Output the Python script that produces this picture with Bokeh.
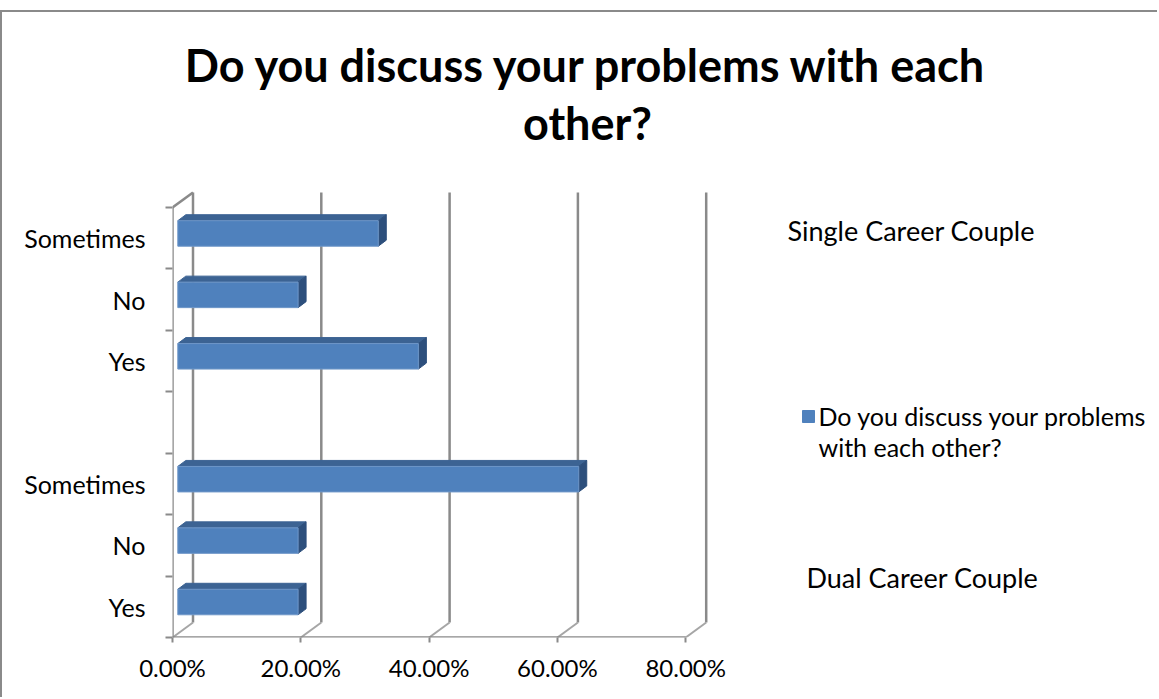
from bokeh.plotting import figure
from bokeh.models import FixedTicker, NumeralTickFormatter, Label, Range1d
from bokeh.embed import file_html
from bokeh.resources import INLINE

# ---------------- data ----------------
categories = ["Yes", "No", "Sometimes"]
groups = ["Dual Career Couple", "Single Career Couple"]
dual_career = [0.1875, 0.1875, 0.625]
single_career = [0.375, 0.1875, 0.3125]
x_ticks = [0.0, 0.2, 0.4, 0.6, 0.8]
series_name = "Do you discuss your problems with each other?"
title_lines = ["Do you discuss your problems with each", "other?"]

# ---------------- layout helpers (page pixels -> data) ----------------
X0_PX, PX_PER_X = 172.0, 641.5      # x = 0 at page px 172
Y0_PX, PX_PER_Y = 637.0, 61.43      # y = -0.5 at page px 637
OX, OY = 2, 12                       # canvas offset on page (css border)
W, H = 1159 - OX, 699 - OY


def dx(px):
    return (px - X0_PX) / PX_PER_X


def dy(py):
    return -0.5 + (Y0_PX - py) / PX_PER_Y


FONT = "Lato"
GRID = "#8a8a8a"
FRONT = "#4f81bd"
TOP = "#3c6393"
SIDE = "#2d4f7c"

p = figure(width=W, height=H, output_backend="svg", toolbar_location=None,
           x_range=Range1d(dx(X0_PX), dx(1159)), y_range=Range1d(dy(Y0_PX), dy(OY)),
           min_border_left=int(X0_PX) - OX, min_border_right=0, min_border_top=0,
           min_border_bottom=699 - int(Y0_PX),
           styles={"margin-top": "10px", "border-top": "2px solid #8a8a8a",
                   "border-left": "2px solid #8a8a8a"})
p.outline_line_color = None
p.xgrid.visible = False
p.ygrid.visible = False
p.background_fill_color = "white"
p.border_fill_color = "white"

# ---------------- axes ----------------
ypos = []
labels = {}
allvals = []
for gi, vals in enumerate([dual_career, single_career]):
    for ci, c in enumerate(categories):
        pos = gi * (len(categories) + 1) + ci
        ypos.append(pos)
        labels[pos] = c
        allvals.append(vals[ci])
n_slots = len(categories) * 2 + 1
bounds = [i - 0.5 for i in range(n_slots + 1)]

xa = p.xaxis[0]
xa.ticker = FixedTicker(ticks=x_ticks, minor_ticks=[])
xa.formatter = NumeralTickFormatter(format="0.00%")
xa.axis_line_color = None
xa.major_tick_in = 0
xa.major_tick_out = 5
xa.major_tick_line_color = GRID
xa.major_tick_line_width = 2
xa.major_label_text_font = FONT
xa.major_label_text_font_size = "24px"
xa.major_label_text_color = "black"
xa.major_label_standoff = 10

ya = p.yaxis[0]
ya.ticker = FixedTicker(ticks=ypos, minor_ticks=bounds)
ya.major_label_overrides = labels
ya.axis_line_color = None
ya.major_tick_line_color = None
ya.major_tick_in = 0
ya.major_tick_out = 0
ya.minor_tick_in = 0
ya.minor_tick_out = 7
ya.minor_tick_line_color = GRID
ya.minor_tick_line_width = 2
ya.major_label_text_font = FONT
ya.major_label_text_font_size = "25px"
ya.major_label_text_color = "black"
ya.major_label_standoff = 20

# ---------------- 3D frame (walls / gridlines) ----------------
bdx = 20.5 / PX_PER_X
bdy = 15.0 / PX_PER_Y
y_lo, y_hi = bounds[0], bounds[-1]
# back vertical gridlines
p.segment(x0=[t + bdx for t in x_ticks], y0=[y_lo + bdy] * len(x_ticks),
          x1=[t + bdx for t in x_ticks], y1=[y_hi + bdy] * len(x_ticks),
          line_color=GRID, line_width=2.5)
# floor diagonals
p.segment(x0=x_ticks, y0=[y_lo] * len(x_ticks),
          x1=[t + bdx for t in x_ticks], y1=[y_lo + bdy] * len(x_ticks),
          line_color="#a6a6a6", line_width=2)
# front floor edge
p.segment(x0=[x_ticks[0]], y0=[y_lo], x1=[x_ticks[-1]], y1=[y_lo],
          line_color=GRID, line_width=2.5)
# left wall front edge + top diagonal
p.segment(x0=[x_ticks[0], x_ticks[0]], y0=[y_lo, y_hi],
          x1=[x_ticks[0], x_ticks[0] + bdx], y1=[y_hi, y_hi + bdy],
          line_color=GRID, line_width=2.5)

# ---------------- 3D bars ----------------
b_off = 5.3 / PX_PER_X
b_below = 8.0 / PX_PER_Y
b_above = 17.5 / PX_PER_Y
ddx = 8.0 / PX_PER_X
ddy = 6.0 / PX_PER_Y

lefts = [b_off] * len(allvals)
rights = [b_off + v for v in allvals]
bots = [y - b_below for y in ypos]
tops = [y + b_above for y in ypos]

top_xs = [[l, r, r + ddx, l + ddx] for l, r in zip(lefts, rights)]
top_ys = [[t, t, t + ddy, t + ddy] for t in tops]
side_xs = [[r, r + ddx, r + ddx, r] for r in rights]
side_ys = [[b, b + ddy, t + ddy, t] for b, t in zip(bots, tops)]

p.patches(xs=top_xs, ys=top_ys, fill_color=TOP, line_color=TOP, line_width=1)
p.patches(xs=side_xs, ys=side_ys, fill_color=SIDE, line_color=SIDE, line_width=1)
p.quad(left=lefts, right=rights, bottom=bots, top=tops,
       fill_color=FRONT, line_color="#6f97c8", line_width=1)

# ---------------- title ----------------
p.add_layout(Label(x=dx(586), y=dy(64), text=title_lines[0], text_align="center",
                   text_baseline="middle", text_font=FONT, text_font_style="bold",
                   text_font_size="45px", text_color="black"))
p.add_layout(Label(x=dx(587), y=dy(122), text=title_lines[1], text_align="center",
                   text_baseline="middle", text_font=FONT, text_font_style="bold",
                   text_font_size="45px", text_color="black"))

# ---------------- group labels ----------------
p.add_layout(Label(x=dx(787), y=dy(230), text=groups[1], text_align="left",
                   text_baseline="middle", text_font=FONT, text_font_size="27px",
                   text_color="black"))
p.add_layout(Label(x=dx(806), y=dy(577), text=groups[0], text_align="left",
                   text_baseline="middle", text_font=FONT, text_font_size="27px",
                   text_color="black"))

# ---------------- legend ----------------
p.scatter(x=[dx(808)], y=[dy(416)], marker="square", size=12,
          fill_color=FRONT, line_color=FRONT)
words = series_name.split(" ")
leg1 = " ".join(words[:5])
leg2 = " ".join(words[5:])
p.add_layout(Label(x=dx(818), y=dy(415), text=leg1, text_align="left",
                   text_baseline="middle", text_font=FONT, text_font_size="25px",
                   text_color="black"))
p.add_layout(Label(x=dx(818), y=dy(446), text=leg2, text_align="left",
                   text_baseline="middle", text_font=FONT, text_font_size="25px",
                   text_color="black"))

open("out.html", "w").write(file_html(p, INLINE))
